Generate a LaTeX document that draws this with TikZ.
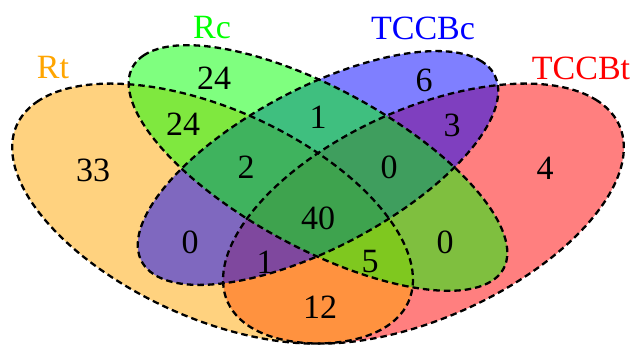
\documentclass[tikz,border=0pt]{standalone}
\usepackage{fontspec}
\setmainfont{Liberation Serif}
\definecolor{cRt}{RGB}{255,165,0}
\definecolor{cRc}{RGB}{0,255,0}
\definecolor{cTc}{RGB}{0,0,255}
\definecolor{cTt}{RGB}{255,0,0}
\begin{document}
\begin{tikzpicture}[
  setfill/.style={fill opacity=0.5},
  setline/.style={draw=black, line width=2.3pt, dash pattern=on 6.5pt off 4pt},
  geomA/.style={shift={(212.55pt,131.4pt)}, xscale=7.03, yscale=4.56, rotate=135},
  geomB/.style={shift={(318pt,177pt)}, xscale=7.03, yscale=4.56, rotate=135},
  geomC/.style={shift={(318pt,177pt)}, xscale=7.03, yscale=4.56, rotate=45},
  geomD/.style={shift={(423.45pt,131.4pt)}, xscale=7.03, yscale=4.56, rotate=45},
  num/.style={font=\fontsize{34}{34}\selectfont, text=black, inner sep=0pt},
  lab/.style={font=\fontsize{34}{34}\selectfont, inner sep=0pt}]
\useasboundingbox (0,0) rectangle (638pt,345pt);
\begin{scope}
\clip (0,0) rectangle (638pt,345pt);
\fill[cTt, setfill, geomD] (0,0) ellipse [x radius=35pt, y radius=20pt];
\fill[cRt, setfill, geomA] (0,0) ellipse [x radius=35pt, y radius=20pt];
\fill[cTc, setfill, geomC] (0,0) ellipse [x radius=33pt, y radius=15pt];
\fill[cRc, setfill, geomB] (0,0) ellipse [x radius=35pt, y radius=15pt];
\draw[setline, geomA] (0,0) ellipse [x radius=35pt, y radius=20pt];
\draw[setline, geomB] (0,0) ellipse [x radius=35pt, y radius=15pt];
\draw[setline, geomC] (0,0) ellipse [x radius=33pt, y radius=15pt];
\draw[setline, geomD] (0,0) ellipse [x radius=35pt, y radius=20pt];
\end{scope}
\node[num] (n33) at (93pt,175pt) {33};
\node[num] (n24a) at (214pt,267pt) {24};
\node[num] (n24b) at (183pt,221pt) {24};
\node[num] (n1a) at (318pt,228pt) {1};
\node[num] (n6) at (424pt,265pt) {6};
\node[num] (n3) at (452pt,220pt) {3};
\node[num] (n2) at (246pt,178pt) {2};
\node[num] (n0c) at (389pt,178pt) {0};
\node[num] (n4) at (545pt,177pt) {4};
\node[num] (n40) at (318pt,127pt) {40};
\node[num] (n0l) at (190pt,103pt) {0};
\node[num] (n1b) at (265pt,83pt) {1};
\node[num] (n5) at (370pt,83pt) {5};
\node[num] (n0r) at (445pt,103pt) {0};
\node[num] (n12) at (320pt,38pt) {12};
\node[lab, text=cRt] (lRt) at (53pt,277pt) {Rt};
\node[lab, text=cRc] (lRc) at (212pt,317pt) {Rc};
\node[lab, text=cTc] (lTc) at (423pt,317pt) {TCCBc};
\node[lab, text=cTt] (lTt) at (581pt,277pt) {TCCBt};
\end{tikzpicture}
\end{document}
